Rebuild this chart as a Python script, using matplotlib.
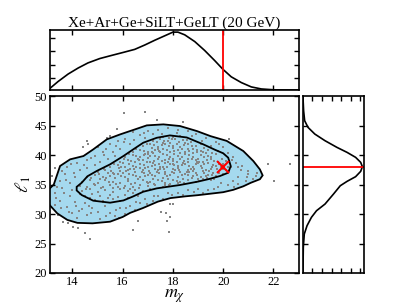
"""Mass / l1 posterior with marginals (Xe+Ar+Ge+SiLT+GeLT, 20 GeV)."""
import numpy as np
import matplotlib
matplotlib.use("Agg")
import matplotlib.pyplot as plt  # noqa: E402
from matplotlib.patches import Polygon  # noqa: E402

plt.rcParams["font.family"] = "serif"
plt.rcParams["font.serif"] = ["Liberation Serif", "DejaVu Serif"]
plt.rcParams["mathtext.fontset"] = "stix"

title = "Xe+Ar+Ge+SiLT+GeLT (20 GeV)"
true_m, true_l1 = 20.0, 38.0

# 95% / 68% contours (m_chi, l1)
outer = [(12.9, 33.5), (13.26, 35.0), (13.51, 38.14), (13.91, 39.27), (14.44, 39.83),
         (14.83, 40.96), (15.37, 42.66), (15.90, 43.50), (16.49, 44.35), (16.96, 45.03),
         (17.62, 45.2), (18.28, 44.92), (18.95, 44.07), (19.5, 43.2), (20.14, 42.4),
         (20.80, 40.68), (21.20, 38.98), (21.46, 37.57), (21.57, 36.55), (21.46, 35.9),
         (21.1, 35.3), (20.8, 34.7), (20.4, 34.1), (20.0, 33.7), (19.6, 33.5), (19.0, 33.2),
         (18.5, 33.0), (17.9, 32.7), (17.4, 32.1), (16.8, 31.0), (16.3, 30.2), (16.0, 29.5),
         (15.5, 28.7), (14.8, 28.42), (14.2, 28.5), (13.8, 29.0), (13.4, 30.1), (13.1, 31.5),
         (12.9, 32.5)]
inner = [(14.17, 34.6), (14.37, 35.3), (14.6, 36.4), (14.97, 37.3), (15.5, 38.42),
         (16.03, 39.83), (16.4, 40.9), (16.82, 42.09), (17.36, 42.93), (17.88, 43.33),
         (18.55, 42.98), (19.21, 41.81), (19.67, 40.9), (20.0, 40.3), (20.2, 39.55),
         (20.3, 38.14), (20.2, 37.0), (19.87, 36.44), (19.48, 35.98), (19.0, 35.5),
         (18.28, 34.92), (17.36, 34.35), (16.82, 33.78), (16.4, 32.95), (16.03, 32.3),
         (15.5, 31.92), (14.83, 32.26), (14.37, 33.22), (14.17, 34.0)]

# posterior samples (approximate reading)
samples = [
    (14.9, 32.4), (15.2, 32.1), (15.6, 32.5), (15.9, 32.2), (15.4, 32.8), (16.2, 32.7),
    (14.5, 33.1), (14.8, 33.4), (15.1, 33.0), (15.5, 33.3), (15.8, 32.9), (16.1, 33.2),
    (16.4, 33.5), (14.7, 32.8), (14.4, 33.9), (14.7, 34.2), (15.0, 33.7), (15.3, 34.1),
    (15.6, 33.8), (15.9, 34.3), (16.2, 33.9), (16.5, 34.1), (16.8, 33.9), (17.1, 34.3),
    (14.3, 34.7), (14.6, 34.5), (14.9, 34.9), (15.2, 34.6), (15.5, 35.0), (15.8, 34.5),
    (16.1, 34.8), (16.4, 34.6), (16.7, 35.0), (17.0, 34.7), (17.3, 34.9), (17.6, 34.6),
    (17.9, 35.1), (18.2, 35.2), (14.4, 35.4), (14.7, 35.7), (15.0, 35.3), (15.3, 35.8),
    (15.6, 35.5), (15.9, 35.2), (16.2, 35.6), (16.5, 35.3), (16.8, 35.8), (17.1, 35.4),
    (17.4, 35.7), (17.7, 35.3), (18.0, 35.8), (18.3, 35.5), (18.6, 35.7), (18.9, 35.5),
    (19.2, 35.9), (19.5, 35.8), (14.6, 36.3), (14.9, 36.6), (15.2, 36.2), (15.5, 36.5),
    (15.8, 36.8), (16.1, 36.3), (16.4, 36.6), (16.7, 36.2), (17.0, 36.7), (17.3, 36.4),
    (17.6, 36.1), (17.9, 36.6), (18.2, 36.3), (18.5, 36.8), (18.8, 36.4), (19.1, 36.2),
    (19.4, 36.7), (19.7, 36.4), (20.0, 36.8), (15.0, 37.1), (15.3, 37.4), (15.6, 37.0),
    (15.9, 37.3), (16.2, 37.5), (16.5, 37.1), (16.8, 37.4), (17.1, 37.0), (17.4, 37.5),
    (17.7, 37.2), (18.0, 37.6), (18.3, 37.1), (18.6, 37.4), (18.9, 37.0), (19.2, 37.3),
    (19.5, 37.6), (19.8, 37.2), (20.1, 37.5), (15.5, 38.0), (15.8, 38.3), (16.1, 37.9),
    (16.4, 38.2), (16.7, 38.5), (17.0, 38.0), (17.3, 38.3), (17.6, 37.9), (17.9, 38.4),
    (18.2, 38.1), (18.5, 38.5), (18.8, 37.9), (19.1, 38.2), (19.4, 38.6), (19.7, 38.1),
    (20.0, 38.4), (20.2, 37.9), (15.9, 38.8), (16.2, 39.1), (16.5, 38.8), (16.8, 39.2),
    (17.1, 38.9), (17.4, 39.3), (17.7, 38.7), (18.0, 39.0), (18.3, 39.3), (18.6, 38.8),
    (18.9, 39.1), (19.2, 38.9), (19.5, 39.3), (19.8, 38.8), (20.1, 39.0), (16.1, 39.7),
    (16.4, 40.0), (16.7, 39.6), (17.0, 40.1), (17.3, 39.8), (17.6, 40.2), (17.9, 39.6),
    (18.2, 39.9), (18.5, 40.2), (18.8, 39.7), (19.1, 40.0), (19.4, 39.8), (19.7, 40.1),
    (16.4, 40.6), (16.7, 40.9), (17.0, 40.5), (17.3, 40.8), (17.6, 41.1), (17.9, 40.6),
    (18.2, 40.9), (18.5, 40.5), (18.8, 41.0), (19.1, 40.7), (19.4, 40.9), (16.8, 41.5),
    (17.1, 41.8), (17.4, 41.4), (17.7, 41.9), (18.0, 41.6), (18.3, 41.3), (18.6, 41.8),
    (18.9, 41.5), (19.1, 41.9), (17.2, 42.4), (17.5, 42.7), (17.8, 42.3), (18.1, 42.8),
    (18.4, 42.5), (18.7, 42.2), (17.6, 43.1), (18.0, 43.0), (18.3, 43.2),
    (16.9, 37.8), (17.2, 38.6), (17.5, 37.6), (17.8, 38.8), (18.1, 37.4), (18.4, 38.7),
    (18.7, 37.7), (19.0, 38.6), (19.3, 37.5), (17.0, 39.5), (17.5, 40.5), (18.0, 39.4),
    (18.5, 40.6), (19.0, 39.4), (17.2, 40.3), (17.7, 39.2), (18.3, 40.4), (18.8, 40.3),
    (19.3, 40.4), (16.3, 37.7), (16.0, 36.9), (15.7, 36.1), (16.6, 35.9), (17.2, 36.0),
    (17.8, 35.9), (18.4, 36.0), (19.0, 35.9), (16.9, 36.5), (17.5, 37.9), (18.2, 37.8),
    (18.9, 38.4), (19.6, 38.3), (17.4, 41.0), (18.0, 41.2), (18.6, 41.1), (17.9, 42.0),
    (18.5, 42.0), (16.3, 34.3), (17.0, 35.2), (17.7, 35.0), (15.6, 34.4), (15.1, 35.9),
    (16.0, 38.6), (16.6, 39.4), (16.9, 40.2), (19.6, 37.0), (19.9, 37.9), (20.0, 37.6),
    (19.3, 36.5), (18.6, 36.6), (17.7, 36.8), (16.2, 36.0), (15.4, 36.9), (17.1, 39.8),
    (18.6, 39.4), (19.2, 40.6), (18.0, 38.5), (17.3, 37.7), (16.7, 37.8), (18.8, 37.3),
    (19.5, 39.6), (17.6, 42.1),
    (14.55, 34.25), (14.85, 35.15), (15.15, 34.35), (15.45, 35.45), (15.75, 35.05),
    (16.05, 34.45), (16.35, 35.15), (16.65, 34.45), (16.95, 35.45), (17.25, 35.15),
    (17.55, 35.55), (17.85, 34.85), (18.15, 35.55), (18.45, 35.25), (18.75, 36.05),
    (19.05, 35.65), (19.35, 36.15), (19.65, 35.95), (14.75, 36.05), (15.05, 36.85),
    (15.35, 36.05), (15.65, 36.75), (15.95, 36.45), (16.25, 36.85), (16.55, 36.45),
    (16.85, 36.95), (17.15, 36.55), (17.45, 36.95), (17.75, 36.45), (18.05, 36.95),
    (18.35, 36.55), (18.65, 37.05), (18.95, 36.65), (19.25, 36.95), (19.55, 36.55),
    (19.85, 36.95), (15.25, 37.65), (15.55, 37.35), (15.85, 37.75), (16.15, 37.25),
    (16.45, 37.55), (16.75, 37.05), (17.05, 37.35), (17.35, 37.15), (17.65, 37.55),
    (17.95, 37.05), (18.25, 37.45), (18.55, 37.15), (18.85, 37.65), (19.15, 37.75),
    (19.45, 37.25), (19.75, 37.65), (15.65, 38.55), (15.95, 38.05), (16.25, 38.45),
    (16.55, 38.05), (16.85, 38.35), (17.15, 38.15), (17.45, 38.45), (17.75, 38.05),
    (18.05, 38.25), (18.35, 38.35), (18.65, 38.15), (18.95, 38.75), (19.25, 38.45),
    (19.55, 38.05), (19.85, 38.55), (16.05, 39.35), (16.35, 38.95), (16.65, 39.15),
    (16.95, 38.85), (17.25, 39.05), (17.55, 38.95), (17.85, 39.35), (18.15, 38.75),
    (18.45, 39.05), (18.75, 39.25), (19.05, 38.85), (19.35, 39.15), (19.65, 38.95),
    (19.95, 39.35), (16.25, 40.25), (16.55, 39.85), (16.85, 39.95), (17.15, 40.45),
    (17.45, 39.65), (17.75, 40.05), (18.05, 40.25), (18.35, 39.65), (18.65, 40.05),
    (18.95, 40.45), (19.25, 39.65), (19.55, 40.35), (16.55, 41.05), (16.85, 40.75),
    (17.15, 41.15), (17.45, 40.65), (17.75, 40.85), (18.05, 40.75), (18.35, 41.05),
    (18.65, 40.75), (18.95, 40.85), (19.25, 41.15), (16.95, 41.95), (17.25, 41.65),
    (17.55, 41.65), (17.85, 41.45), (18.15, 41.95), (18.45, 41.65), (18.75, 41.45),
    (17.35, 42.15), (17.65, 42.45), (17.95, 42.65), (18.25, 42.25), (18.55, 42.55),
    (17.85, 42.95),
    (13.3, 33.5), (13.5, 32.2), (13.6, 34.4), (13.8, 31.2), (13.9, 33.0), (14.0, 30.1),
    (14.1, 32.0), (14.2, 29.3), (14.4, 30.8), (14.5, 31.9), (14.6, 29.8), (14.8, 31.0),
    (15.0, 30.3), (15.1, 29.1), (15.3, 31.3), (15.5, 30.2), (15.7, 29.6), (15.9, 31.0),
    (16.1, 30.0), (16.3, 31.3), (16.5, 30.7), (16.7, 31.8), (16.9, 32.6), (17.2, 32.2),
    (17.4, 33.0), (17.8, 33.5), (18.2, 33.6), (18.6, 34.0), (19.0, 34.3), (19.4, 34.1),
    (19.8, 34.6), (20.2, 34.9), (20.6, 35.1), (20.9, 35.6), (21.2, 36.0), (21.0, 36.8),
    (20.7, 37.4), (20.5, 38.6), (20.6, 36.3), (20.4, 39.6), (20.2, 40.4), (20.0, 41.3),
    (19.7, 42.2), (19.3, 42.9), (18.9, 43.5), (18.6, 44.0), (18.2, 44.3), (17.8, 44.6),
    (17.4, 44.2), (17.0, 44.0), (16.7, 43.4), (16.4, 43.9), (16.1, 42.8), (15.8, 42.4),
    (15.5, 41.8), (15.9, 41.0), (15.6, 40.5), (15.2, 40.6), (14.9, 39.9), (15.4, 39.3),
    (14.6, 39.1), (14.2, 38.6), (14.9, 38.3), (13.8, 38.0), (14.3, 37.5), (13.7, 36.8),
    (14.1, 36.2), (13.5, 35.6), (13.9, 35.2), (13.4, 34.6), (13.6, 37.3), (14.6, 37.8),
    (15.1, 38.9), (15.7, 39.8), (16.3, 41.9), (16.9, 42.9), (17.2, 43.6), (19.5, 41.5),
    (19.8, 40.7), (20.3, 38.0), (20.6, 37.9), (21.0, 37.3), (21.3, 36.4), (19.2, 33.6),
    (18.4, 33.2), (17.6, 32.6), (16.6, 33.1), (15.2, 32.2), (14.0, 34.1), (13.3, 31.5),
    (14.3, 33.4), (13.2, 36.5), (15.5, 43.2), (15.0, 41.4), (19.9, 35.3), (20.4, 35.6),
    (13.35, 32.8), (13.65, 33.6), (13.75, 35.8), (14.05, 37.0), (13.95, 38.5),
    (14.45, 38.3), (14.75, 39.5), (15.25, 40.0), (15.35, 41.1), (15.75, 41.6),
    (16.05, 42.2), (16.45, 42.6), (16.85, 43.7), (17.55, 43.6), (18.15, 43.8),
    (18.75, 43.2), (19.15, 42.4), (19.85, 41.8), (20.35, 39.1), (20.75, 38.2),
    (20.95, 36.2), (21.35, 37.0), (20.45, 34.6), (19.65, 34.3), (18.85, 33.7),
    (17.95, 33.2), (17.25, 33.1), (16.95, 31.7), (16.55, 32.1), (16.15, 31.0),
    (15.75, 30.6), (15.35, 29.6), (14.75, 30.1), (14.25, 30.5), (13.85, 30.3),
    (13.55, 31.1), (14.15, 31.4), (14.65, 31.3), (15.85, 29.4),
    (16.06, 47.17), (15.76, 44.35), (14.57, 42.37), (14.64, 41.81), (14.41, 41.4),
    (15.37, 42.93), (13.31, 37.85), (16.89, 47.24), (17.36, 45.93), (18.39, 45.54),
    (21.79, 38.42), (22.66, 38.4), (22.04, 35.55), (20.23, 42.66), (13.44, 29.83),
    (13.64, 28.7), (13.84, 28.42), (14.04, 27.85), (14.21, 27.57), (14.5, 26.83),
    (14.70, 25.71), (16.40, 27.29), (16.62, 28.81), (17.51, 30.28), (17.73, 30.22),
    (17.88, 29.54), (17.78, 28.86), (17.84, 27.0), (17.88, 31.69), (18.02, 31.69),
]

# marginal of m_chi (fraction of panel height)
m_grid = [13.11, 13.43, 13.83, 14.23, 14.62, 15.09, 15.55, 16.02, 16.48, 16.88, 17.28,
          17.67, 18.0, 18.20, 18.47, 18.87, 19.26, 19.66, 19.99, 20.32, 20.72, 21.12,
          21.52, 22.05, 22.97]
m_pdf = [0.028, 0.141, 0.266, 0.367, 0.452, 0.525, 0.576, 0.627, 0.678, 0.751, 0.831,
         0.904, 0.966, 0.966, 0.921, 0.808, 0.661, 0.492, 0.345, 0.220, 0.124, 0.051,
         0.017, 0.002, 0.0]
# marginal of l1 (fraction of panel width)
l_grid = [49.9, 47.51, 45.82, 44.69, 43.56, 42.43, 41.30, 40.45, 39.61, 38.76, 38.02,
          37.23, 36.33, 35.54, 34.80, 33.39, 31.69, 30.56, 29.44, 28.02, 26.61, 24.35, 20.1]
l_pdf = [0.0, 0.011, 0.028, 0.083, 0.194, 0.361, 0.556, 0.722, 0.861, 0.944, 0.972,
         0.944, 0.861, 0.722, 0.611, 0.5, 0.361, 0.222, 0.139, 0.067, 0.022, 0.006, 0.0]

xlim = (13.11, 23.02)
ylim = (20, 50)

fig = plt.figure(figsize=(4.05, 3.04), dpi=100)
ax = fig.add_axes([0.1235, 0.102, 0.615, 0.582])
axt = fig.add_axes([0.1235, 0.704, 0.615, 0.197])
axr = fig.add_axes([0.748, 0.102, 0.151, 0.582])

for a in (ax, axt, axr):
    a.tick_params(direction="in", top=True, right=True, length=3.5, width=1.0,
                  labelsize=9, pad=2)
    for sp in a.spines.values():
        sp.set_linewidth(1.2)

ax.add_patch(Polygon(outer, closed=True, facecolor="#a5d9ee", edgecolor="none", zorder=1))
pts = np.array(samples)
ax.scatter(pts[:, 0], pts[:, 1], s=4, c="#858585", marker="s", linewidths=0, zorder=2)
ax.add_patch(Polygon(outer, closed=True, fill=False, edgecolor="k", lw=1.3, zorder=3))
ax.add_patch(Polygon(inner, closed=True, fill=False, edgecolor="k", lw=1.3, zorder=3))
ax.plot([true_m], [true_l1], "x", color="red", ms=9, mew=1.5, zorder=4)
ax.set_xlim(*xlim)
ax.set_ylim(*ylim)
ax.set_xticks([14, 16, 18, 20, 22])
ax.set_yticks([20, 25, 30, 35, 40, 45, 50])
ax.set_xlabel(r"$m_\chi$", fontsize=13, labelpad=0)
ax.set_ylabel(r"$\ell_1$", fontsize=13, labelpad=1)

axt.plot(m_grid, m_pdf, color="k", lw=1.2)
axt.axvline(true_m, color="red", lw=1.3)
axt.set_xlim(*xlim)
axt.set_ylim(0, 1)
axt.set_xticks([14, 16, 18, 20, 22])
axt.set_yticks([0.198, 0.424, 0.650, 0.876])
axt.set_xticklabels([])
axt.set_yticklabels([])
axt.set_title(title, fontsize=11, pad=2)

axr.plot(l_pdf, l_grid, color="k", lw=1.2)
axr.axhline(true_l1, color="red", lw=1.3)
axr.set_ylim(*ylim)
axr.set_xlim(0, 1)
axr.set_yticks([25, 30, 35, 40, 45])
axr.set_xticks([0.153, 0.317, 0.475, 0.628, 0.781, 0.94])
axr.set_xticklabels([])
axr.set_yticklabels([])

fig.savefig("out.png", dpi=100)
print("wrote out.png")
